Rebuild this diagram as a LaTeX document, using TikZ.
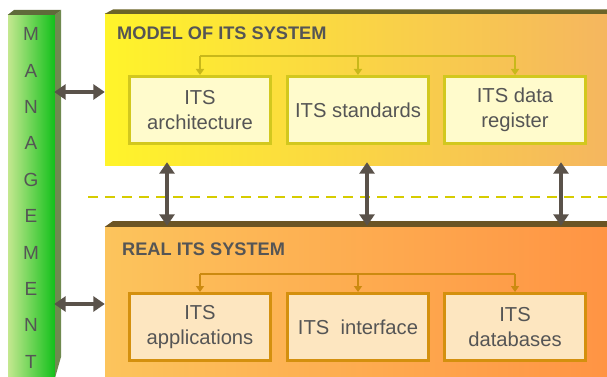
\documentclass[tikz,border=0pt]{standalone}
\usepackage{fontspec}
\setmainfont{Liberation Sans}
\usetikzlibrary{arrows.meta}

\definecolor{txtgray}{HTML}{555555}
\definecolor{arrowgray}{HTML}{5A524A}
\definecolor{mgmtlight}{HTML}{C4E890}
\definecolor{mgmtdark}{HTML}{12C01A}
\definecolor{mgmtside}{HTML}{6F8A4F}
\definecolor{mgmttop}{HTML}{5F6A3A}
\definecolor{modelL}{HTML}{FFF42A}
\definecolor{modelM}{HTML}{FBDC50}
\definecolor{modelR}{HTML}{F5B65F}
\definecolor{modeltop}{HTML}{6B6428}
\definecolor{realL}{HTML}{FCC45C}
\definecolor{realM}{HTML}{FDB050}
\definecolor{realR}{HTML}{FF9444}
\definecolor{realtop}{HTML}{6B5424}
\definecolor{modelfill}{HTML}{FFFBCC}
\definecolor{modeledge}{HTML}{D2C81E}
\definecolor{realfill}{HTML}{FDE6C0}
\definecolor{realedge}{HTML}{D4900E}
\definecolor{modellink}{HTML}{C8B81A}
\definecolor{reallink}{HTML}{CC8A10}
\definecolor{dashcol}{HTML}{D6CC00}

\begin{document}
\begin{tikzpicture}[x=1pt,y=-1pt,
  layerbox/.style={rectangle, draw=none, inner sep=0pt},
  itembox/.style={rectangle, line width=3pt, minimum width=141pt, minimum height=67pt,
    inner sep=0pt, align=center, text=txtgray,
    font=\fontsize{20.2}{24.5}\selectfont},
  modelitem/.style={itembox, draw=modeledge, fill=modelfill},
  realitem/.style={itembox, draw=realedge, fill=realfill},
  title/.style={anchor=west, inner sep=0pt, text=txtgray,
    font=\fontsize{18.2}{21}\selectfont\bfseries},
  link/.style={line width=2pt},
  linktip/.style={link, -{Triangle[length=6pt,width=8pt]}},
  bigarrow/.style={draw=arrowgray, line width=4.5pt,
    {Triangle[length=11.5pt,width=15pt]}-{Triangle[length=11.5pt,width=15pt]}},
  dashline/.style={draw=dashcol, line width=2pt, dash pattern=on 10pt off 7pt}
]
\useasboundingbox (0,0) rectangle (607,377);

% management column: front face, side face and top bevel
\node[layerbox, left color=mgmtlight, right color=mgmtdark,
  minimum width=47pt, minimum height=362pt] (mgmt) at (31.5,196) {};
\fill[mgmtside] (mgmt.north east) -- (61,10) -- (61,357) -- (mgmt.south east) -- cycle;
\fill[mgmttop] (mgmt.north west) -- (14,10) -- (61,10) -- (mgmt.north east) -- cycle;
\node[inner sep=0pt, align=center, text=txtgray,
  font=\fontsize{19}{36.4}\selectfont] (mgmttext) at (31,198)
  {M\\A\\N\\A\\G\\E\\M\\E\\N\\T};

% model layer
\node[layerbox, left color=modelL, middle color=modelM, right color=modelR,
  minimum width=502pt, minimum height=151pt] (model) at (356,89.5) {};
\fill[modeltop] (model.north west) -- (113,9.5) -- (607,9.5) -- (model.north east) -- cycle;
\node[title] (modeltitle) at (117,33) {MODEL OF ITS SYSTEM};

% real layer
\node[layerbox, left color=realL, middle color=realM, right color=realR,
  minimum width=502pt, minimum height=150pt] (real) at (356,302) {};
\fill[realtop] (real.north west) -- (113,221) -- (607,221) -- (real.north east) -- cycle;
\node[title] (realtitle) at (122,249) {REAL ITS SYSTEM};

% model components
\node[modelitem] (m1) at (200,110) {ITS\\architecture};
\node[modelitem] (m2) at (358,110) {ITS standards};
\node[modelitem] (m3) at (515,110) {ITS data\\register};

% real components
\node[realitem] (r1) at (200,327) {ITS\\applications};
\node[realitem] (r2) at (358,327) {ITS\ \ interface};
\node[realitem] (r3) at (515,327) {ITS\\databases};

% distribution lines inside each layer
\coordinate (mbus) at (358,56);
\draw[link, draw=modellink] (m1.north |- mbus) -- (m3.north |- mbus);
\foreach \b in {m1,m2,m3}
  \draw[linktip, draw=modellink, fill=modellink] (\b.north |- mbus) -- (\b.north);

\coordinate (rbus) at (358,274);
\draw[link, draw=reallink] (r1.north |- rbus) -- (r3.north |- rbus);
\foreach \b in {r1,r2,r3}
  \draw[linktip, draw=reallink, fill=reallink] (\b.north |- rbus) -- (\b.north);

% boundary between model and reality
\coordinate (d0) at (88,197);
\coordinate (d1) at (607,197);
\draw[dashline] (d0) -- (d1);

% links between the layers
\coordinate (v1) at (167,0);
\coordinate (v2) at (367,0);
\coordinate (v3) at (561,0);
\foreach \v in {v1,v2,v3}
  \draw[bigarrow] ([yshift=3pt]model.south -| \v) -- ([yshift=1pt]real.north -| \v);

% links to management
\coordinate (ua) at (0,92);
\coordinate (la) at (0,304);
\draw[bigarrow] ([xshift=-1pt]mgmt.east |- ua) -- (model.west |- ua);
\draw[bigarrow] ([xshift=-1pt]mgmt.east |- la) -- (real.west |- la);
\end{tikzpicture}
\end{document}
